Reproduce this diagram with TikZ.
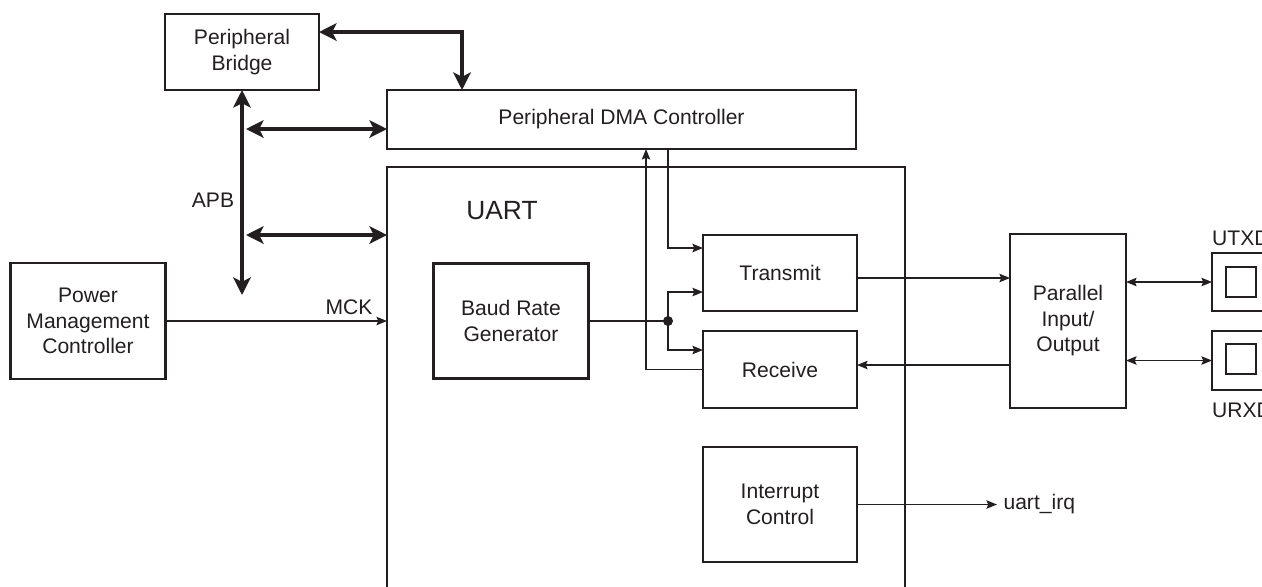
\documentclass[tikz,border=0pt]{standalone}
\usepackage{fontspec}
\setmainfont{Liberation Sans}
\usetikzlibrary{arrows.meta,calc}
\definecolor{ink}{RGB}{35,31,32}
\tikzset{
  blk/.style={draw=ink,line width=1.6pt,inner sep=0pt,outer sep=0pt,align=center},
  sig/.style={draw=ink,line width=0.75pt,>={Stealth[length=6pt,width=4.8pt,inset=1pt]}},
  bus/.style={draw=ink,line width=2.5pt,>={Stealth[length=10pt,width=10pt,inset=2.5pt]}}
}

\begin{document}
\begin{tikzpicture}[x=0.2mm,y=-0.2mm,line join=miter,text=ink,font=\fontsize{12}{14.5}\selectfont]
  \useasboundingbox (0,0) rectangle (1262,586);
  \clip (0,0) rectangle (1262,586);
  \node[blk,minimum width=103.6mm,minimum height=90.6mm] (uart) at (646,393.5) {};
  \node[font=\fontsize{15}{18}\selectfont] (uartlbl) at (502,211) {UART};
  \node[blk,minimum width=30.8mm,minimum height=15.2mm] (bridge) at (242,52) {Peripheral\\Bridge};
  \node[blk,minimum width=93.8mm,minimum height=11.8mm] (dma) at (621.5,119.5) {Peripheral DMA Controller};
  \node[blk,minimum width=31mm,minimum height=23.2mm] (pmc) at (88,321) {Power\\Management\\Controller};
  \node[blk,minimum width=31mm,minimum height=23mm] (baud) at (511,321) {Baud Rate\\Generator};
  \node[blk,minimum width=30.8mm,minimum height=15.2mm] (tx) at (780,273) {Transmit};
  \node[blk,minimum width=30.8mm,minimum height=15.4mm] (rx) at (780,369.5) {Receive};
  \node[blk,minimum width=30.8mm,minimum height=23mm] (irq) at (780,504.5) {Interrupt\\Control};
  \node[blk,minimum width=23.2mm,minimum height=34.8mm] (pio) at (1068,321) {Parallel\\Input/\\Output};
  \node[blk,minimum width=17.6mm,minimum height=11.6mm] (txpad) at (1256,282) {};
  \node[blk,minimum size=6mm] (txpin) at (1241,282) {};
  \node[blk,minimum width=17.6mm,minimum height=11.8mm] (rxpad) at (1256,360.5) {};
  \node[blk,minimum size=6mm] (rxpin) at (1241,359) {};
  \node[anchor=west] (utxd) at (1206,238) {UTXD};
  \node[anchor=west] (urxd) at (1206,410) {URXD};
  \node (apb) at (213,200) {APB};

  \coordinate (apbend) at (242,295); \coordinate (apbA) at (242,129); \coordinate (apbB) at (242,235);
  \coordinate (bend) at (462,32);
  \draw[bus,<->] (bridge.south) -- (apbend);
  \draw[bus,<->] ([xshift=0.8mm]apbA) -- (apbA -| dma.west);
  \draw[bus,<->] ([xshift=0.8mm]apbB) -- (apbB -| uart.west);
  \draw[bus,<->] (bend -| bridge.east) -- (bend) -- (bend |- dma.north);

  \draw[sig,->] (pmc.east) -- (pmc.east -| uart.west) node[pos=1,above left,xshift=-1.6mm] {MCK};
  \coordinate (jn) at (668,321);
  \draw[sig] (baud.east) -- (jn); \fill[ink] (jn) circle (1mm);
  \draw[sig,->] (jn) |- ([yshift=-3.8mm]tx.west);
  \draw[sig,->] (jn) |- ([yshift=3.9mm]rx.west);
  \draw[sig,->] (dma.south -| jn) |- ([yshift=5mm]tx.west);
  \draw[sig,->] (rx.west) -| ([xshift=4.9mm]dma.south);

  \coordinate (txout) at ([yshift=-1mm]tx.east); \coordinate (rxin) at ([yshift=0.9mm]rx.east);
  \draw[sig,->] (txout) -- (txout -| pio.west);
  \draw[sig,->] (rxin -| pio.west) -- (rxin);
  \draw[sig,<->] (txpad.west -| pio.east) -- (txpad.west);
  \draw[sig,<->] (rxpad.west -| pio.east) -- (rxpad.west);
  \draw[sig,->] (irq.east) -- ++(140,0) node[right] (irqlbl) {uart\_irq};
\end{tikzpicture}
\end{document}
